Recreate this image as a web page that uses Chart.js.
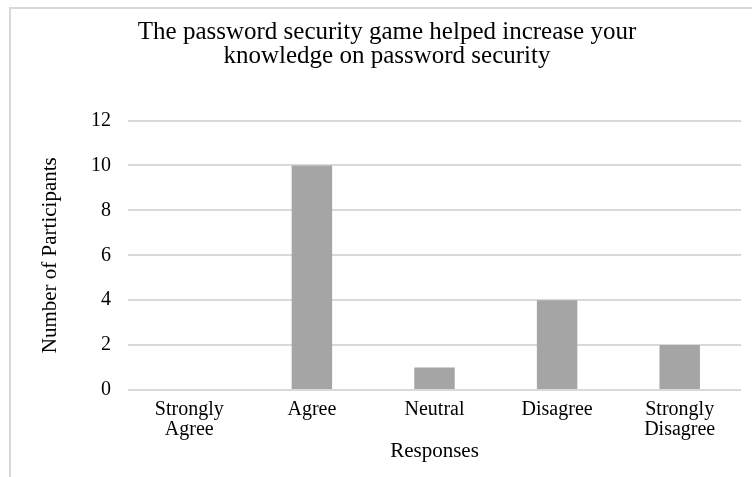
<!DOCTYPE html>
<html>
<head>
<meta charset="utf-8">
<script src="https://cdn.jsdelivr.net/npm/chart.js@4/dist/chart.umd.min.js"></script>
<style>
  html, body { margin: 0; padding: 0; background: #fff; }
  #wrap { position: relative; width: 752px; height: 477px; }
</style>
</head>
<body>
<div id="wrap"><canvas id="c" width="752" height="477"></canvas></div>
<script>
const categories = [["Strongly", "Agree"], "Agree", "Neutral", "Disagree", ["Strongly", "Disagree"]];
const participants = [0, 10, 1, 4, 2];
const yTicks = [0, 2, 4, 6, 8, 10, 12];
const chartTitle = ["The password security game helped increase your", "knowledge on password security"];
const xTitle = "Responses";
const yTitle = "Number of Participants";

const FONT = "'Liberation Serif', 'Times New Roman', serif";

const borderPlugin = {
  id: 'outerBorder',
  beforeDraw(chart) {
    const ctx = chart.ctx;
    ctx.save();
    ctx.fillStyle = '#ffffff';
    ctx.fillRect(0, 0, chart.width, chart.height);
    ctx.strokeStyle = '#d9d9d9';
    ctx.lineWidth = 2;
    ctx.strokeRect(10, 8, 800, 520);
    ctx.restore();
  }
};

new Chart(document.getElementById('c'), {
  type: 'bar',
  data: {
    labels: categories,
    datasets: [{
      data: participants,
      backgroundColor: '#a5a5a5',
      borderWidth: 0,
      barPercentage: 0.33,
      categoryPercentage: 1.0
    }]
  },
  options: {
    responsive: false,
    animation: false,
    devicePixelRatio: 1,
    layout: { padding: { left: 33, right: 11, top: 0, bottom: 0 } },
    plugins: {
      legend: { display: false },
      tooltip: { enabled: false },
      title: {
        display: true,
        text: chartTitle,
        color: '#000',
        font: { family: FONT, size: 25, weight: 'normal', lineHeight: 0.95 },
        padding: { top: 21, bottom: 52 }
      }
    },
    scales: {
      x: {
        grid: { display: false, drawTicks: false },
        border: { display: false },
        ticks: {
          color: '#000',
          font: { family: FONT, size: 20, lineHeight: 1.0 },
          padding: 10,
          maxRotation: 0,
          autoSkip: false
        },
        title: {
          display: true,
          text: xTitle,
          color: '#000',
          font: { family: FONT, size: 21, lineHeight: 1.0 },
          padding: { top: 0, bottom: 15 }
        },
        afterFit(scale) { scale.height = 87; }
      },
      y: {
        min: 0,
        max: 12,
        afterBuildTicks(scale) { scale.ticks = yTicks.map(v => ({ value: v })); },
        grid: { color: '#d9d9d9', lineWidth: 2, drawTicks: false },
        border: { display: false },
        ticks: {
          color: '#000',
          font: { family: FONT, size: 20 },
          padding: 17
        },
        title: {
          display: true,
          text: yTitle,
          color: '#000',
          font: { family: FONT, size: 21, lineHeight: 1.0 },
          padding: { top: 7, bottom: 0 }
        },
        afterFit(scale) { scale.width = 95; }
      }
    }
  },
  plugins: [borderPlugin]
});
</script>
</body>
</html>
